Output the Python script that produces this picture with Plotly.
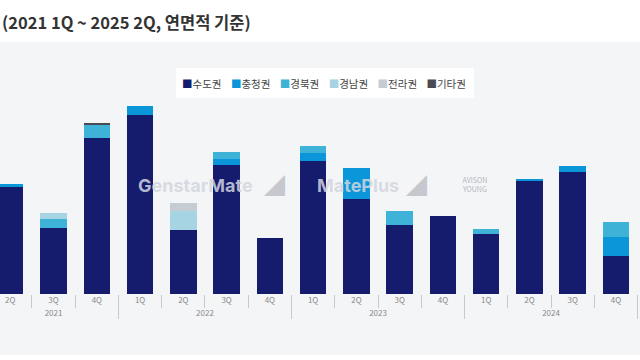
import plotly.graph_objects as go

years = ["2021"] * 4 + ["2022"] * 4 + ["2023"] * 4 + ["2024"] * 4
quarters = ["1Q", "2Q", "3Q", "4Q"] * 4

# values (relative floor-area units); 2021 1Q is outside the crop
sudo   = [None, 107, 66, 156, 179, 64, 129, 56, 133, 95, 69, 78, 60, 113, 122, 38]
chung  = [None, 3, 0, 0, 9, 0, 6, 0, 8, 31, 0, 0, 0, 2, 6, 19]
gbuk   = [None, 0, 9, 13, 0, 0, 7, 0, 7, 0, 14, 0, 5, 0, 0, 15]
gnam   = [None, 0, 6, 0, 0, 19, 0, 0, 0, 0, 0, 0, 0, 0, 0, 0]
jeolla = [None, 0, 0, 0, 0, 8, 0, 0, 0, 0, 0, 0, 0, 0, 0, 0]
etc    = [None, 0, 0, 2, 0, 0, 0, 0, 0, 0, 0, 0, 0, 0, 0, 0]

series = [
    ("수도권", sudo, "#151c6e"),
    ("충청권", chung, "#0b96d9"),
    ("경북권", gbuk, "#3fb2d8"),
    ("경남권", gnam, "#a6d4e2"),
    ("전라권", jeolla, "#c5cdd3"),
    ("기타권", etc, "#4a4a55"),
]

fig = go.Figure()
for name, vals, col in series:
    fig.add_trace(go.Bar(x=[years, quarters], y=vals, name=name, showlegend=False,
                         marker=dict(color=col, line=dict(width=0))))

T, B = 60, 294
H = B - T

def py(p):
    return (B - p) / H

fig.update_layout(
    barmode="stack",
    bargap=0.39,
    width=640, height=360,
    margin=dict(l=0, r=0, t=T, b=360 - B, autoexpand=False),
    paper_bgcolor="white",
    plot_bgcolor="rgba(0,0,0,0)",
    font=dict(family="Noto Sans CJK KR, Noto Sans, sans-serif"),
    xaxis=dict(type="multicategory", range=[0.762, 15.556], automargin=False,
               showgrid=False, ticks="outside", ticklen=13, tickcolor="#c8c8c8",
               showdividers=True, dividercolor="#c8c8c8", dividerwidth=1,
               tickfont=dict(size=8, color="#8a8a8a"),
               showline=False, zeroline=False),
    yaxis=dict(range=[0, H], visible=False, fixedrange=True, automargin=False),
    shapes=[
        dict(type="rect", xref="paper", yref="paper", x0=0, x1=1,
             y0=py(355), y1=py(42), fillcolor="#f4f5f7", line=dict(width=0),
             layer="below"),
        dict(type="rect", xref="paper", yref="paper", x0=176 / 640, x1=474 / 640,
             y0=py(98), y1=py(68), fillcolor="white", line=dict(width=0),
             layer="below"),
    ],
)

legend_text = "&nbsp;&nbsp;&nbsp;&nbsp;".join(
    f'<span style="color:{col}">■</span>{name}' for name, _, col in series)

ann = [
    dict(text="<b>(2021 1Q ~ 2025 2Q, 연면적 기준)</b>", x=0, y=py(22), xanchor="left",
         font=dict(size=16.5, color="#333", family="Noto Sans CJK KR")),
    dict(text=legend_text, x=324 / 640, y=py(83), xanchor="center",
         font=dict(size=10.5, color="#444", family="Noto Sans CJK KR")),
    dict(text="<b>GenstarMate</b>", x=136 / 640, y=py(185), xanchor="left",
         font=dict(size=18, color="rgba(210,213,222,0.85)", family="Inter")),
    dict(text="◢", x=262 / 640, y=py(184), xanchor="left",
         font=dict(size=21, color="rgba(190,192,198,0.85)")),
    dict(text="<b>MatePlus</b>", x=315 / 640, y=py(185), xanchor="left",
         font=dict(size=18, color="rgba(210,213,222,0.85)", family="Inter")),
    dict(text="◢", x=404 / 640, y=py(184), xanchor="left",
         font=dict(size=21, color="rgba(190,192,198,0.85)")),
    dict(text="AVISON<br>YOUNG", x=474 / 640, y=py(184), xanchor="center",
         font=dict(size=7, color="rgba(170,172,180,0.9)")),
]
for a in ann:
    a.update(xref="paper", yref="paper", showarrow=False, yanchor="middle")
    fig.add_annotation(**a)

fig.write_html("out.html", config={"displayModeBar": False},
               post_script="document.body.style.margin='0';document.body.style.overflow='hidden';")
